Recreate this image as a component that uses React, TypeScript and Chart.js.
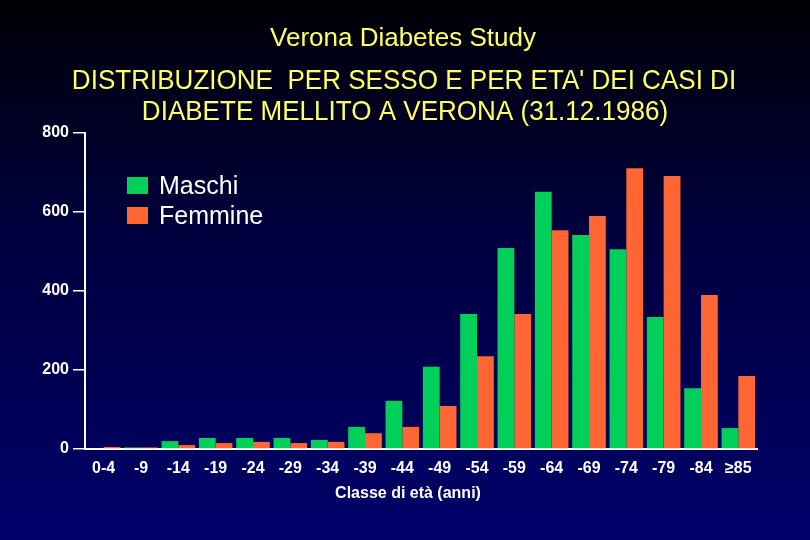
import React, { useEffect, useRef } from "react";
import { Chart, registerables } from "chart.js";

Chart.register(...registerables);

const categories = ["0-4", "-9", "-14", "-19", "-24", "-29", "-34", "-39", "-44", "-49", "-54", "-59", "-64", "-69", "-74", "-79", "-84", "≥85"];
const maschi = [0, 4, 20, 28, 28, 28, 23, 56, 122, 208, 342, 509, 651, 542, 506, 334, 154, 53];
const femmine = [5, 4, 10, 15, 18, 15, 18, 40, 56, 109, 235, 342, 554, 590, 711, 691, 390, 185];
const yTicks = [0, 200, 400, 600, 800];
const titleLine = "Verona Diabetes Study";
const subtitleLines = ["DISTRIBUZIONE  PER SESSO E PER ETA' DEI CASI DI", "DIABETE MELLITO A VERONA (31.12.1986)"];
const xTitle = "Classe di età (anni)";
const seriesNames = ["Maschi", "Femmine"];

const GREEN = "rgb(0,208,90)";
const ORANGE = "rgb(255,102,51)";
const YELLOW = "#ffff66";
const SANS = "'Liberation Sans', Arial, sans-serif";

const textPlugin = {
  id: "slideText",
  afterDraw(chart: any) {
    const ctx = chart.ctx;
    ctx.save();
    ctx.textBaseline = "middle";
    ctx.textAlign = "center";
    ctx.fillStyle = YELLOW;
    ctx.font = `26px ${SANS}`;
    ctx.fillText(titleLine, 403, 39);

    ctx.save();
    const sx = 0.93;
    ctx.scale(sx, 1);
    ctx.font = `28px ${SANS}`;
    ctx.fillText(subtitleLines[0], 404 / sx, 81);
    ctx.fillText(subtitleLines[1], 405 / sx, 112);
    ctx.restore();

    // legend
    const ds = chart.data.datasets;
    ctx.textAlign = "left";
    ctx.font = `25px ${SANS}`;
    const ys = [185, 215];
    ds.forEach((d: any, i: number) => {
      ctx.fillStyle = d.backgroundColor;
      ctx.fillRect(127, ys[i] - 8, 21, 17);
      ctx.fillStyle = "#ffffff";
      ctx.fillText(d.label, 159, ys[i] + 2);
    });

    // x title
    ctx.textAlign = "center";
    ctx.font = `bold 16px ${SANS}`;
    ctx.fillStyle = "#ffffff";
    ctx.fillText(xTitle, 408, 494);
    ctx.restore();
  },
};

export default function App() {
  const ref = useRef<HTMLCanvasElement>(null);
  useEffect(() => {
    if (!ref.current) return;
    const chart = new Chart(ref.current, {
      type: "bar",
      data: {
        labels: categories,
        datasets: [
          { label: seriesNames[0], data: maschi, backgroundColor: GREEN, borderWidth: 0 },
          { label: seriesNames[1], data: femmine, backgroundColor: ORANGE, borderWidth: 0 },
        ],
      },
      options: {
        responsive: false,
        animation: false,
        layout: { padding: { top: 133, right: 53, left: 0, bottom: 0 } },
        plugins: { legend: { display: false }, title: { display: false }, tooltip: { enabled: false } },
        datasets: { bar: { categoryPercentage: 0.9, barPercentage: 1.0 } },
        scales: {
          x: {
            grid: { display: false, drawTicks: false },
            border: { display: true, color: "#ffffff", width: 2 },
            ticks: { color: "#ffffff", font: { family: SANS, size: 16, weight: "bold" }, padding: 10, maxRotation: 0, autoSkip: false },
            afterFit(scale: any) { scale.height = 91; },
          },
          y: {
            min: 0,
            max: 800,
            afterBuildTicks(scale: any) { scale.ticks = yTicks.map((v) => ({ value: v })); },
            grid: { drawOnChartArea: false, drawTicks: true, tickLength: 12, color: "#ffffff", lineWidth: 1.5 },
            border: { display: true, color: "#ffffff", width: 2 },
            ticks: { color: "#ffffff", font: { family: SANS, size: 16, weight: "bold" }, padding: 4 },
            afterFit(scale: any) { scale.width = 85; },
          },
        },
      },
      plugins: [textPlugin],
    } as any);
    return () => chart.destroy();
  }, []);
  return (
    <div style={{ position: "fixed", left: 0, top: 0, width: 810, height: 540, background: "linear-gradient(to bottom, #000006 0%, #000040 45%, #00006a 100%)" }}>
      <canvas ref={ref} width={810} height={540} style={{ display: "block" }} />
    </div>
  );
}
